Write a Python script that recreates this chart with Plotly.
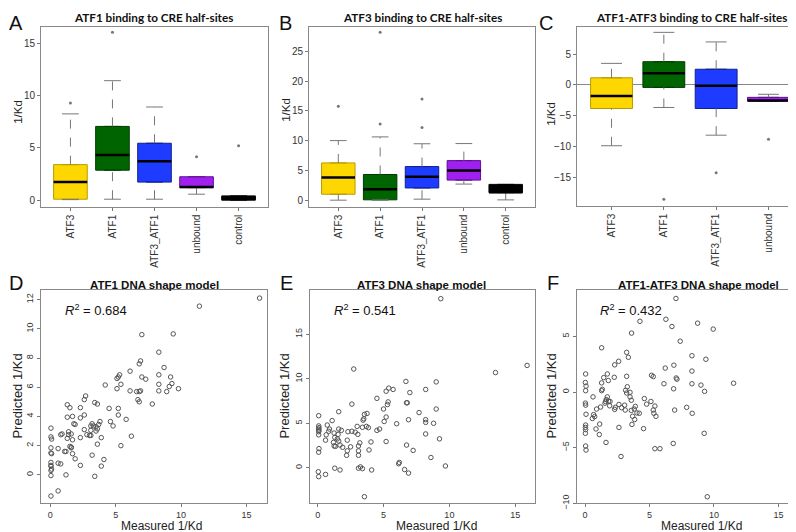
import plotly.graph_objects as go

W, H = 796, 532

# ---------------- data ----------------
cats5 = ["ATF3", "ATF1", "ATF3_ATF1", "unbound", "control"]
cats4 = ["ATF3", "ATF1", "ATF3_ATF1", "unbound"]
box_fill = ["#FFD700", "#006400", "#1E3CFF", "#A020F0", "#000000"]
box_edge = ["#B89A00", "#003C00", "#10208F", "#5E1090", "#000000"]

# Panel A: ATF1 binding to CRE half-sites
A_q1 = [0.09, 2.87, 1.73, 1.20, 0.00]
A_med = [1.73, 4.32, 3.72, 1.26, 0.20]
A_q3 = [3.40, 7.06, 5.45, 2.24, 0.41]
A_lo = [0.05, 0.09, 0.09, 0.57, 0.00]
A_hi = [8.26, 11.44, 8.92, 2.24, 0.41]
A_out = [[9.3], [16.07], [], [4.16], [5.2]]

# Panel B: ATF3 binding to CRE half-sites
B_q1 = [1.00, 0.06, 2.05, 3.37, 1.27]
B_med = [3.82, 1.83, 3.93, 4.98, 1.35]
B_q3 = [6.25, 4.31, 5.64, 6.64, 2.65]
B_lo = [0.00, 0.05, 0.17, 2.70, 0.05]
B_hi = [10.0, 10.62, 9.47, 9.50, 2.65]
B_out = [[15.76], [12.78, 28.2], [12.2, 17.0], [], []]

# Panel C: ATF1-ATF3 binding to CRE half-sites
C_q1 = [-3.80, -0.39, -3.80, -2.63]
C_med = [-1.77, 1.90, -0.12, -2.52]
C_q3 = [1.16, 3.77, 2.55, -2.00]
C_lo = [-9.83, -3.64, -8.12, -2.63]
C_hi = [3.50, 8.52, 6.97, -1.50]
C_out = [[], [-18.47], [-14.2], [-8.76]]

# Panel D: ATF1 DNA shape model (measured, predicted)
D_x = [16.0, 11.4, 7.0, 9.4, 8.3, 6.9, 6.8, 8.7, 6.1, 5.3, 5.2, 5.1, 7.0, 7.3, 9.2, 8.3, 9.3, 8.3, 5.4, 4.2,
       9.1, 5.1, 9.8, 8.9, 8.3, 6.9, 6.8, 6.6, 6.1, 2.7, 2.6, 6.7, 6.8, 7.8, 1.3, 3.4, 3.6, 1.5, 2.3, 4.5,
       5.2, 5.2, 2.6, 1.7, 1.3, 2.3, 5.8, 3.8, 4.6, 3.2, 1.8, 1.9, 3.7, 4.8, 3.3, 3.1, 3.5, 0.05, 3.6, 2.6,
       3.1, 3.5, 1.4, 0.9, 0.8, 1.6, 2.8, 3.1, 3.0, 1.4, 0.05, 6.2, 3.9, 2.3, 0.1, 1.3, 1.7, 3.6, 5.4, 1.5,
       1.6, 1.6, 0.05, 0.6, 1.1, 1.2, 0.05, 0.1, 1.7, 3.2, 1.9, 4.1, 0.05, 0.6, 0.8, 0.05, 0.05, 2.3, 3.9, 0.1,
       0.05, 1.2, 0.05, 3.4, 0.6, 0.05]
D_y = [12.1, 11.55, 9.6, 9.65, 8.4, 7.8, 7.6, 7.35, 7.1, 6.85, 6.7, 6.6, 6.7, 6.55, 6.7, 6.85, 6.25, 6.2, 6.2, 6.15,
       6.05, 5.9, 5.9, 5.7, 5.75, 5.75, 5.7, 5.7, 5.75, 5.4, 5.15, 5.15, 5.0, 4.85, 4.8, 4.95, 4.85, 4.6, 4.6, 4.55,
       4.55, 4.1, 4.1, 4.0, 3.95, 3.9, 3.8, 3.65, 3.65, 3.5, 3.5, 3.45, 3.45, 3.35, 3.35, 3.35, 3.3, 3.2, 3.15, 3.1,
       3.05, 3.0, 2.95, 2.8, 2.75, 2.8, 2.75, 2.7, 2.7, 2.75, 2.6, 2.65, 2.55, 2.55, 2.45, 2.5, 2.4, 2.1, 2.0, 1.95,
       1.9, 1.85, 1.85, 1.8, 1.6, 1.6, 1.5, 1.45, 1.45, 1.35, 1.1, 1.05, 0.85, 0.8, 0.75, 0.65, 0.6, 0.65, 0.6, 0.4,
       0.3, 0.0, -0.05, -0.1, -1.1, -1.45]

# Panel E: ATF3 DNA shape model
E_x = [9.35, 15.9, 13.5, 2.74, 6.7, 9.0, 5.2, 5.4, 5.73, 8.2, 7.0, 4.5, 2.6, 5.35, 5.3, 6.8, 6.75, 7.7, 9.0, 5.0,
       1.6, 0.08, 3.75, 3.55, 3.5, 3.45, 5.2, 6.9, 8.2, 1.1, 8.2, 8.8, 5.05, 6.0, 0.08, 0.73, 0.1, 0.08, 0.1, 0.08,
       0.08, 0.84, 0.9, 1.6, 1.8, 2.3, 2.6, 2.85, 3.05, 3.0, 3.4, 3.85, 3.7, 4.5, 4.7, 0.65, 1.25, 1.55, 0.6, 1.3,
       1.5, 1.6, 1.2, 1.25, 1.35, 1.7, 1.9, 2.5, 2.25, 3.2, 3.1, 4.05, 5.2, 6.75, 9.25, 8.2, 2.25, 3.1, 3.9, 0.1,
       0.08, 2.2, 3.1, 7.25, 8.6, 6.2, 6.15, 1.3, 3.1, 3.25, 3.4, 4.1, 1.7, 9.7, 6.6, 6.9, 0.05, 0.6, 0.08, 3.55]
E_y = [19.0, 11.5, 10.7, 11.1, 9.7, 9.65, 8.6, 8.95, 8.8, 8.8, 8.45, 7.8, 7.15, 7.4, 7.1, 7.3, 7.3, 6.2, 6.6, 6.6,
       6.3, 5.85, 6.1, 6.0, 5.5, 5.35, 5.7, 5.4, 5.4, 5.3, 5.1, 5.0, 5.2, 4.95, 4.7, 4.8, 4.5, 4.35, 4.2, 4.05,
       3.7, 4.1, 4.35, 4.35, 4.2, 4.05, 4.1, 4.0, 3.75, 4.65, 4.55, 4.5, 4.65, 4.2, 4.35, 3.7, 3.9, 3.75, 3.1, 3.4,
       3.25, 3.0, 2.85, 2.45, 2.4, 2.55, 2.3, 2.35, 3.1, 2.8, 2.45, 2.9, 2.95, 2.55, 3.25, 3.8, 1.9, 1.9, 2.0, 2.15,
       1.75, 1.4, 1.4, 1.95, 1.15, 0.6, 0.45, -0.05, -0.05, 0.1, -0.1, -0.25, -0.25, 0.2, -0.2, -0.6, -0.45, -0.75, -1.0, -3.25]

# Panel F: ATF1-ATF3 DNA shape model
F_x = [7.05, 6.27, 4.26, 8.73, 6.74, 9.94, 3.61, 7.38, 1.29, 3.23, 3.36, 8.29, 9.37, 2.61, 2.3, 6.89, 6.22, 8.29, 0.05, 1.73,
       2.27, 1.45, 3.23, 5.16, 5.29, 7.07, 7.13, 1.81, 0.03, 1.29, 0.08, 3.28, 6.12, 8.29, 8.99, 11.52, 16.19, 1.34, 1.29, 0.05,
       3.15, 3.23, 3.49, 6.87, 9.27, 0.62, 3.49, 3.59, 4.6, 1.73, 1.65, 1.6, 1.55, 1.83, 1.94, 0.03, 0.05, 0.08, 0.9, 1.21,
       1.91, 2.3, 2.35, 2.63, 2.84, 3.07, 3.12, 3.59, 3.82, 3.9, 4.03, 4.21, 3.69, 3.85, 3.64, 5.11, 4.78, 5.42, 5.29, 5.34,
       5.5, 6.95, 7.88, 8.31, 0.67, 0.75, 0.57, 1.14, 0.85, 1.11, 0.05, 0.03, 0.05, 0.03, 2.63, 4.54, 9.24, 1.63, 0.05, 0.08,
       2.79, 5.42, 5.81, 6.84, 9.48]
F_y = [8.4, 6.53, 6.35, 6.18, 5.88, 5.65, 5.29, 4.56, 3.97, 3.56, 3.12, 3.26, 2.94, 2.76, 2.44, 2.41, 2.15, 1.88, 1.62, 1.62,
       1.32, 1.29, 1.41, 1.5, 1.38, 1.26, 1.15, 1.03, 0.85, 0.82, 0.53, 0.47, 0.74, 0.74, 0.62, 0.79, 0.59, 0.24, 0.12, 0.12,
       0.15, -0.09, -0.03, 0.29, 0.06, -0.44, -0.44, -0.74, -0.59, -0.44, -0.68, -0.85, -1.0, -0.82, -0.85, -1.0, -1.18, -2.0, -1.53, -1.35,
       -1.24, -1.56, -1.38, -1.12, -1.41, -1.18, -1.62, -1.65, -1.53, -1.29, -1.88, -1.91, -2.18, -2.47, -2.91, -0.85, -1.09, -1.26, -1.62, -1.91,
       -2.18, -1.62, -1.38, -1.91, -2.03, -2.21, -2.38, -2.88, -3.32, -3.82, -2.97, -3.18, -3.38, -3.71, -3.18, -3.29, -3.71, -4.53, -4.85, -5.21,
       -5.79, -5.09, -5.09, -4.62, -9.41]

r2_values = ["0.684", "0.541", "0.432"]

# ---------------- helpers ----------------
SANS = "Liberation Sans, Arial, sans-serif"
BOX_TICKFONT = dict(family=SANS, size=10, color="#333")
SC_TICKFONT = dict(family=SANS, size=9, color="#333")


def px_x(x):
    return x / W


def px_y(y):
    return 1 - y / H


fig = go.Figure()


def add_box_panel(idx, cats, q1, med, q3, lo, hi, outs):
    xa = "x" if idx == 1 else f"x{idx}"
    ya = "y" if idx == 1 else f"y{idx}"
    pos = list(range(1, len(cats) + 1))
    wx, wy, cx, cy, mx, my, ox, oy = [], [], [], [], [], [], [], []
    for i, p in enumerate(pos):
        if lo[i] < q1[i]:
            wx += [p, p, None]; wy += [lo[i], q1[i], None]
            cx += [p - 0.2, p + 0.2, None]; cy += [lo[i], lo[i], None]
        if hi[i] > q3[i]:
            wx += [p, p, None]; wy += [q3[i], hi[i], None]
            cx += [p - 0.2, p + 0.2, None]; cy += [hi[i], hi[i], None]
        mx += [p - 0.4, p + 0.4, None]; my += [med[i], med[i], None]
        for o in outs[i]:
            ox.append(p); oy.append(o)
    fig.add_trace(go.Scatter(x=wx, y=wy, mode="lines", line=dict(color="#777", width=1, dash="dash"),
                             xaxis=xa, yaxis=ya, showlegend=False, hoverinfo="skip"))
    fig.add_trace(go.Scatter(x=cx, y=cy, mode="lines", line=dict(color="#777", width=1),
                             xaxis=xa, yaxis=ya, showlegend=False, hoverinfo="skip"))
    for i, p in enumerate(pos):
        fig.add_trace(go.Box(x=[p], q1=[q1[i]], median=[med[i]], q3=[q3[i]],
                             lowerfence=[q1[i]], upperfence=[q3[i]], width=0.8,
                             fillcolor=box_fill[i], line=dict(color=box_edge[i], width=1),
                             boxpoints=False, xaxis=xa, yaxis=ya, showlegend=False, hoverinfo="skip"))
    fig.add_trace(go.Scatter(x=mx, y=my, mode="lines", line=dict(color="#000", width=2.5),
                             xaxis=xa, yaxis=ya, showlegend=False, hoverinfo="skip"))
    fig.add_trace(go.Scatter(x=ox, y=oy, mode="markers", marker=dict(color="#777", size=3),
                             xaxis=xa, yaxis=ya, showlegend=False, hoverinfo="skip"))


def add_scatter_panel(idx, xs, ys):
    fig.add_trace(go.Scatter(x=xs, y=ys, mode="markers",
                             marker=dict(symbol="circle-open", size=4.5, color="#555", line=dict(width=1)),
                             xaxis=f"x{idx}", yaxis=f"y{idx}", showlegend=False))


add_box_panel(1, cats5, A_q1, A_med, A_q3, A_lo, A_hi, A_out)
add_box_panel(2, cats5, B_q1, B_med, B_q3, B_lo, B_hi, B_out)
add_box_panel(3, cats4, C_q1, C_med, C_q3, C_lo, C_hi, C_out)
add_scatter_panel(4, D_x, D_y)
add_scatter_panel(5, E_x, E_y)
add_scatter_panel(6, F_x, F_y)

# ---------------- axes ----------------
common = dict(showline=True, mirror=True, linecolor="#888", linewidth=1, ticks="outside", ticklen=3,
              tickcolor="#777", showgrid=False, zeroline=False, fixedrange=True)

panels = {
    # idx: (left, right, top, bottom) in pixels
    1: (33, 260, 19, 201),
    2: (301, 527, 19, 201),
    3: (569, 795, 19, 200),
    4: (33, 259, 285, 501),
    5: (302, 527, 285, 501),
    6: (569, 795, 285, 501),
}
xranges = {1: [0.3, 5.7], 2: [0.3, 5.7], 3: [0.34, 4.66],
           4: [-0.71, 16.57], 5: [-0.58, 16.5], 6: [-0.62, 16.9]}
yranges = {1: [-0.63, 16.6], 2: [-1.1, 29.1], 3: [-19.54, 9.42],
           4: [-1.95, 12.67], 5: [-4.0, 20.0], 6: [-10.0, 9.18]}
yticks = {1: [0, 5, 10, 15], 2: [0, 5, 10, 15, 20, 25], 3: [-15, -10, -5, 0, 5],
          4: [0, 2, 4, 6, 8, 10, 12], 5: [0, 5, 10, 15], 6: [-10, -5, 0, 5]}

layout = dict(width=W, height=H, margin=dict(l=0, r=0, t=0, b=0),
              paper_bgcolor="white", plot_bgcolor="white", showlegend=False,
              font=dict(family=SANS, color="#222"), boxmode="overlay")

for idx, (l, r, t, b) in panels.items():
    xk = "xaxis" if idx == 1 else f"xaxis{idx}"
    yk = "yaxis" if idx == 1 else f"yaxis{idx}"
    xs = "x" if idx == 1 else f"x{idx}"
    ys = "y" if idx == 1 else f"y{idx}"
    tf = BOX_TICKFONT if idx <= 3 else SC_TICKFONT
    xa = dict(common, domain=[px_x(l), px_x(r)], anchor=ys, range=xranges[idx], tickfont=tf)
    ya = dict(common, domain=[px_y(b), px_y(t)], anchor=xs, range=yranges[idx], tickfont=tf,
              tickmode="array", tickvals=yticks[idx])
    if idx <= 3:
        cats = cats5 if idx < 3 else cats4
        xa.update(tickmode="array", tickvals=list(range(1, len(cats) + 1)), ticktext=cats, tickangle=-90)
        ya.update(tickangle=0)
    else:
        xa.update(tickmode="array", tickvals=[0, 5, 10, 15])
        ya.update(tickangle=-90)
    if idx == 3:
        ya.update(zeroline=True, zerolinecolor="#888", zerolinewidth=1)
    layout[xk] = xa
    layout[yk] = ya

fig.update_layout(**layout)

# ---------------- annotations ----------------
ann = []


def text(x, y, s, size, bold=False, angle=0, family=SANS, xanchor="center", yanchor="middle", color="#222",
         pad=1):
    ann.append(dict(x=px_x(x), y=px_y(y), xref="paper", yref="paper", text=f"<b>{s}</b>" if bold else s,
                    showarrow=False, xanchor=xanchor, yanchor=yanchor, textangle=angle, borderpad=pad,
                    font=dict(family=family, size=size, color=color)))


for lab, (x, y) in zip("ABCDEF", [(8, 15), (277, 15), (538, 15), (8, 278), (278, 278), (545, 278)]):
    text(x, y, lab, 20, color="#111")

TITLEF = "Lato, Open Sans, sans-serif"
text(145, 0, "ATF1 binding to CRE half-sites", 11.7, bold=True, family=TITLEF, yanchor="top", color="#111")
text(415, 0, "ATF3 binding to CRE half-sites", 11.7, bold=True, family=TITLEF, yanchor="top", color="#111")
text(683, 0, "ATF1-ATF3 binding to CRE half-sites", 11.7, bold=True, family=TITLEF, yanchor="top", color="#111")
text(146, 280, "ATF1 DNA shape model", 11.5, bold=True, color="#111")
text(413, 280, "ATF3 DNA shape model", 11.5, bold=True, color="#111")
text(690, 280, "ATF1-ATF3 DNA shape model", 11.5, bold=True, color="#111")

for x, y in [(10, 105), (278, 103), (543, 107)]:
    text(x, y, "1/Kd", 11.5, angle=-90)
for x, y in [(10, 393), (277, 393), (544, 393)]:
    text(x, y, "Predicted 1/Kd", 13, angle=-90)
for x in [153, 428, 693]:
    text(x, 532, "Measured 1/Kd", 12, yanchor="bottom", pad=0)

for x, r2 in zip([55, 324, 590], r2_values):
    text(x, 305, f"<i>R</i><sup>2</sup> = {r2}", 13, xanchor="left", color="#111")

fig.update_layout(annotations=ann)

fig.write_html("out.html")
